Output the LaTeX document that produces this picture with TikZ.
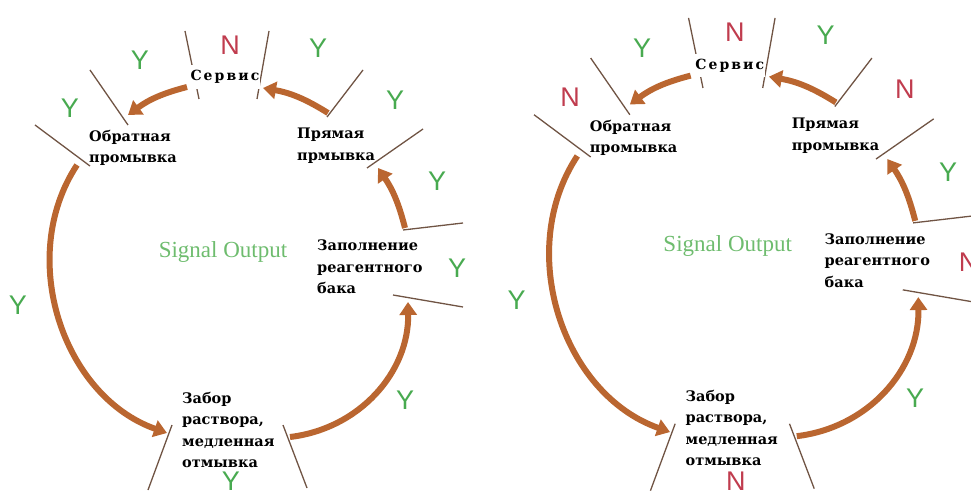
\documentclass[tikz,border=0pt]{standalone}
\usepackage{fontspec}
\setmainfont{DejaVu Serif}
\newfontfamily\signalfont{Liberation Serif}
\newfontfamily\ansfont{Liberation Sans}
\newfontfamily\servfont{DejaVu Serif}[LetterSpace=15]
\usepackage{tikz}
\usetikzlibrary{arrows.meta}
\definecolor{flowbrown}{RGB}{186,102,48}
\definecolor{tickgray}{RGB}{112,84,68}
\definecolor{colY}{RGB}{72,170,80}
\definecolor{colN}{RGB}{192,60,78}
\definecolor{siggreen}{RGB}{110,188,110}
\tikzstyle{stage}=[font=\bfseries\fontsize{14.5}{21.5}\selectfont, align=left, anchor=north west, inner sep=0pt]
\tikzstyle{service}=[font=\servfont\bfseries\fontsize{14}{14}\selectfont, fill=white, inner xsep=1pt, inner ysep=5pt]
\tikzstyle{signal}=[font=\signalfont\fontsize{23}{23}\selectfont, text=siggreen, inner sep=0pt]
\tikzstyle{ans}=[font=\ansfont\fontsize{27}{27}\selectfont, inner sep=0pt]
\tikzstyle{tick}=[draw=tickgray, line width=1.3pt]
\tikzstyle{flow}=[draw=flowbrown, line width=6pt, -{Triangle[length=13pt,width=17pt]}]

\begin{document}
\begin{tikzpicture}[x=1pt, y=-1pt]
	\useasboundingbox (0,0) rectangle (971,494);
	\clip (0,0) rectangle (971,494);
	
	% Both cycles share one layout, the right one is a bit larger
	\foreach \p/\sx/\sy/\sca/\prx/\pr in {l/0/0/1/297/прмывка, r/498/-14/1.03/285/промывка}{
		\begin{scope}[shift={(\sx,\sy)}, scale=\sca]
		% Ticks between the stages
		\foreach \a/\b in {
			{(185,31)/(199,99)}, {(269,31)/(257,99)}, {(90,70)/(128,125)},
			{(35,125)/(90,166)}, {(363,70)/(327,117)}, {(423,129)/(367,168)},
			{(463,223)/(403,230)}, {(393,295)/(463,307)}, {(172,425)/(148,490)},
			{(283,425)/(307,488)}}
		\draw[tick] \a -- \b;
		
		% Stages
		\node[service] (\p-serv) at (225,77) {Сервис};
		\node[stage] (\p-obr) at (89,130) {Обратная\\промывка};
		\node[stage] (\p-pr) at (\prx,128) {Прямая\\\pr};
		\node[stage] (\p-zap) at (317,240) {Заполнение\\реагентного\\бака};
		\node[stage] (\p-zab) at (182,392) {Забор\\раствора,\\медленная\\отмывка};
		\node[signal] (\p-sig) at (223,252) {Signal Output};
		
		% Arrow ends at the ticks
		\foreach \pos/\name in {
			{(328,113)/a1s}, {(263,88)/a1e}, {(187,87)/a2s}, {(128,115)/a2e},
			{(77,165)/a3s}, {(167,433)/a3e}, {(290,437)/a4s}, {(408,302)/a4e},
			{(405,228)/a5s}, {(378,168)/a5e}}
		\path \pos coordinate (\p-\name);
		
		\foreach \s/\e/\b in {a1s/a1e/11, a2s/a2e/11, a3s/a3e/52, a4s/a4e/42, a5s/a5e/10}
		\draw[flow] (\p-\s) to[bend right=\b] (\p-\e);
		\end{scope}
	}
	
	% Answers of the left cycle
	\foreach \pos/\m [count=\k] in {
		{(230,45)/N}, {(140,60)/Y}, {(318,48)/Y}, {(70,108)/Y}, {(395,100)/Y},
		{(437,181)/Y}, {(457,268)/Y}, {(18,305)/Y}, {(405,400)/Y}, {(231,481)/Y}}
	\node[ans, text=col\m] (l-m\k) at \pos {\m};
	
	% Answers of the right cycle
	\begin{scope}[shift={(498,-14)}, scale=1.03]
	\foreach \pos/\m [count=\k] in {
		{(230,45)/N}, {(140,60)/Y}, {(318,48)/Y}, {(70,108)/N}, {(395,100)/N},
		{(437,181)/Y}, {(457,268)/N}, {(18,305)/Y}, {(405,400)/Y}, {(231,481)/N}}
	\node[ans, text=col\m] (r-m\k) at \pos {\m};
	\end{scope}
\end{tikzpicture}
\end{document}
